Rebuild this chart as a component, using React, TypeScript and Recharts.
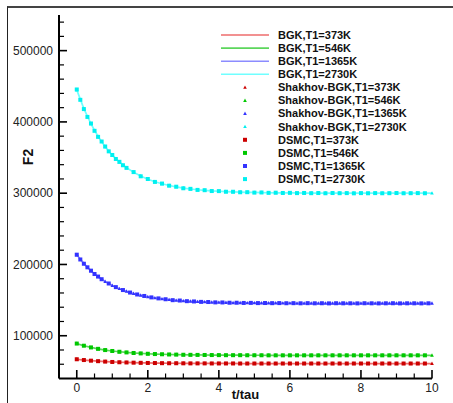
import React from 'react';
import { LineChart, Line, XAxis, YAxis, Legend } from 'recharts';

// kinetic solutions (BGK and Shakhov-BGK overlap), sampled every 0.2 tau
const T_KIN = [
  0, 0.2, 0.4, 0.6, 0.8, 1, 1.2, 1.4, 1.6, 1.8, 2, 2.2, 2.4, 2.6, 2.8, 3, 3.2, 3.4, 3.6, 3.8,
  4, 4.2, 4.4, 4.6, 4.8, 5, 5.2, 5.4, 5.6, 5.8, 6, 6.2, 6.4, 6.6, 6.8, 7, 7.2, 7.4, 7.6, 7.8,
  8, 8.2, 8.4, 8.6, 8.8, 9, 9.2, 9.4, 9.6, 9.8, 10,
];

const F2_373 = [
  67000, 65900, 65000, 64300, 63700, 63200, 62800, 62500, 62200, 62000,
  61800, 61700, 61500, 61400, 61400, 61300, 61200, 61200, 61200, 61100,
  61100, 61100, 61100, 61000, 61000, 61000, 61000, 61000, 61000, 61000,
  61000, 61000, 61000, 61000, 61000, 61000, 61000, 61000, 61000, 61000,
  61000, 61000, 61000, 61000, 61000, 61000, 61000, 61000, 61000, 61000,
  61000,
];

const F2_546 = [
  89000, 86000, 83600, 81600, 79900, 78600, 77500, 76600, 75800, 75200,
  74700, 74300, 74000, 73700, 73500, 73300, 73200, 73100, 73000, 72900,
  72800, 72700, 72700, 72700, 72600, 72600, 72600, 72500, 72500, 72500,
  72500, 72500, 72500, 72500, 72500, 72500, 72500, 72500, 72500, 72500,
  72500, 72500, 72500, 72500, 72500, 72500, 72500, 72500, 72500, 72500,
  72500,
];

const F2_1365 = [
  213500, 201200, 191100, 182800, 176100, 170500, 166000, 162300, 159200, 156700,
  154700, 153000, 151700, 150600, 149600, 148900, 148300, 147800, 147400, 147000,
  146700, 146500, 146300, 146200, 146100, 146000, 145900, 145800, 145800, 145700,
  145700, 145600, 145600, 145600, 145600, 145600, 145500, 145500, 145500, 145500,
  145500, 145500, 145500, 145500, 145500, 145500, 145500, 145500, 145500, 145500,
  145500,
];

const F2_2730 = [
  445000, 418700, 397200, 379600, 365100, 353300, 343700, 335800, 329300, 324000,
  319600, 316100, 313200, 310800, 308800, 307200, 305900, 304800, 304000, 303200,
  302700, 302200, 301800, 301500, 301200, 301000, 300800, 300600, 300500, 300400,
  300300, 300300, 300200, 300200, 300200, 300100, 300100, 300100, 300100, 300100,
  300000, 300000, 300000, 300000, 300000, 300000, 300000, 300000, 300000, 300000,
  300000,
];

// DSMC samples: finer at the start for the two hot cases
const T_DSMC_1365 = [
  0, 0.1, 0.2, 0.3, 0.4, 0.5, 0.6, 0.7, 0.9, 1.1, 1.3, 1.5, 1.7, 1.9, 2.1, 2.3, 2.5, 2.7,
  2.9, 3.1, 3.3, 3.5, 3.7, 3.9, 4.1, 4.3, 4.5, 4.7, 4.9, 5.1, 5.3, 5.5, 5.7, 5.9, 6.1, 6.3,
  6.5, 6.7, 6.9, 7.1, 7.3, 7.5, 7.7, 7.9, 8.1, 8.3, 8.5, 8.7, 8.9, 9.1, 9.3, 9.5, 9.7, 9.9,
];
const DSMC_1365 = [
  213700, 207000, 201000, 196000, 191300, 186600, 183000, 179300,
  173300, 168200, 164100, 160600, 157900, 155800, 153800, 152400, 151200, 149900,
  149400, 148500, 148100, 147500, 147300, 146800, 146700, 146300, 146300, 146000,
  146100, 145800, 145900, 145700, 145800, 145600, 145700, 145500, 145700, 145500,
  145600, 145400, 145600, 145500, 145500, 145400, 145600, 145500, 145400, 145500,
  145600, 145400, 145500, 145500, 145400, 145500,
];

const T_DSMC_2730 = [
  0, 0.1, 0.2, 0.3, 0.4, 0.5, 0.6, 0.7, 0.8, 0.9, 1, 1.1, 1.2, 1.3, 1.4, 1.6, 1.8, 2, 2.2,
  2.4, 2.6, 2.8, 3, 3.2, 3.4, 3.6, 3.8, 4, 4.2, 4.4, 4.6, 4.8, 5, 5.2, 5.4, 5.6, 5.8, 6, 6.2,
  6.4, 6.6, 6.8, 7, 7.2, 7.4, 7.6, 7.8, 8, 8.2, 8.4, 8.6, 8.8, 9, 9.2, 9.4, 9.6, 9.8,
];
const DSMC_2730 = [
  445500, 431000, 418000, 407000, 397800, 387500, 379000, 372500, 365500, 358700,
  353600, 348000, 344000, 339200, 335500,
  329600, 323700, 319900, 315800, 313500, 310500, 309100, 306900, 306100, 304600,
  304200, 303000, 302900, 302000, 302000, 301300, 301400, 300800, 301000, 300500,
  300700, 300300, 300500, 300100, 300300, 300000, 300200, 299900, 300200, 300000,
  300100, 299800, 300100, 299900, 300100, 299900, 300000, 300200, 299900, 300000,
  300100, 299900,
];

const TEMPS = ['373K', '546K', '1365K', '2730K'];
const LINE_COLORS = ['#ee6c6c', '#5cd65c', '#8c8cff', '#70ffff'];
const MARK_COLORS = ['#cc0000', '#00c800', '#3333ff', '#00f0f0'];

const X_TICKS = [0, 0.5, 1, 1.5, 2, 2.5, 3, 3.5, 4, 4.5, 5, 5.5, 6, 6.5, 7, 7.5, 8, 8.5, 9, 9.5, 10];
const X_LABELS = [0, 2, 4, 6, 8, 10];
const Y_TICKS = [
  60000, 80000, 100000, 120000, 140000, 160000, 180000, 200000, 220000, 240000, 260000,
  280000, 300000, 320000, 340000, 360000, 380000, 400000, 420000, 440000, 460000, 480000,
  500000, 520000, 540000,
];
const Y_LABELS = [100000, 200000, 300000, 400000, 500000];

const FONT = '"Liberation Sans", Arial, Helvetica, sans-serif';

const kinData = T_KIN.map((t, i) => ({
  t,
  k0: F2_373[i],
  k1: F2_546[i],
  k2: F2_1365[i],
  k3: F2_2730[i],
}));

// DSMC for the cold cases is sampled on the same grid, stopping at 9.8
const dsmcData = [
  T_KIN.slice(0, 50).map((t, i) => ({ t, v: F2_373[i] })),
  T_KIN.slice(0, 50).map((t, i) => ({ t, v: F2_546[i] })),
  T_DSMC_1365.map((t, i) => ({ t, v: DSMC_1365[i] })),
  T_DSMC_2730.map((t, i) => ({ t, v: DSMC_2730[i] })),
];

const squareDot = (color: string) => (p: any) => (
  <rect key={`sq-${p.index}`} x={p.cx - 2} y={p.cy - 2} width={4} height={4} fill={color} />
);

const triangleDot = (color: string) => (p: any) => (
  <path
    key={`tr-${p.index}`}
    d={`M${p.cx},${p.cy - 2}L${p.cx + 1.8},${p.cy + 1.4}L${p.cx - 1.8},${p.cy + 1.4}Z`}
    fill={color}
  />
);

const YTick = (props: any) => {
  const { x, y, payload } = props;
  const ax = x + 6;
  const major = Y_LABELS.includes(payload.value);
  return (
    <g>
      <line x1={ax} x2={ax + (major ? 8 : 5)} y1={y} y2={y} stroke="#000" strokeWidth={major ? 1.6 : 1.2} />
      {major && (
        <text x={x} y={y} dy={4.3} textAnchor="end" fontSize={12} fontFamily={FONT} fill="#222">
          {payload.value}
        </text>
      )}
    </g>
  );
};

const XTick = (props: any) => {
  const { x, y, payload } = props;
  const ay = y - 2;
  const major = X_LABELS.includes(payload.value);
  return (
    <g>
      <line x1={x} x2={x} y1={ay} y2={ay - (major ? 8.5 : 5)} stroke="#000" strokeWidth={major ? 1.6 : 1.2} />
      {major && (
        <text x={x} y={y} dy={11} textAnchor="middle" fontSize={12} fontFamily={FONT} fill="#222">
          {payload.value}
        </text>
      )}
    </g>
  );
};

const renderLegend = () => {
  const rows: { name: string; kind: 'line' | 'tri' | 'sq'; i: number }[] = [];
  TEMPS.forEach((T, i) => rows.push({ name: `BGK,T1=${T}`, kind: 'line', i }));
  TEMPS.forEach((T, i) => rows.push({ name: `Shakhov-BGK,T1=${T}`, kind: 'tri', i }));
  TEMPS.forEach((T, i) => rows.push({ name: `DSMC,T1=${T}`, kind: 'sq', i }));
  return (
    <svg width={235} height={165}>
      {rows.map((r, k) => {
        const cy = 8 + k * 13.1;
        return (
          <g key={r.name}>
            {r.kind === 'line' && <line x1={8} x2={56} y1={cy} y2={cy} stroke={LINE_COLORS[r.i]} strokeWidth={1.6} />}
            {r.kind === 'tri' && triangleDot(MARK_COLORS[r.i])({ cx: 32, cy, index: k })}
            {r.kind === 'sq' && squareDot(MARK_COLORS[r.i])({ cx: 32, cy, index: k })}
            <text x={65} y={cy + 3.8} fontSize={11} fontWeight="bold" fontFamily={FONT} fill="#111">
              {r.name}
            </text>
          </g>
        );
      })}
    </svg>
  );
};

export default function App() {
  return (
    <div style={{ position: 'absolute', left: 0, top: 0, width: 453, height: 403, background: '#fff', overflow: 'hidden' }}>
      <div
        style={{
          position: 'absolute',
          left: 7,
          top: 6,
          width: 460,
          height: 410,
          borderTop: '2px solid #444',
          borderLeft: '1px solid #222',
        }}
      />
      <LineChart width={453} height={403} data={kinData} margin={{ top: 15, right: 21, left: 0, bottom: 0 }}>
        <XAxis
          dataKey="t"
          type="number"
          domain={[-0.5, 10]}
          ticks={X_TICKS}
          interval={0}
          height={24.5}
          tickSize={0}
          tickMargin={2}
          tickLine={false}
          axisLine={{ stroke: '#000', strokeWidth: 2 }}
          tick={<XTick />}
          label={{
            content: (p: any) => (
              <text
                x={p.viewBox.x + p.viewBox.width / 2}
                y={399}
                textAnchor="middle"
                fontSize={13}
                fontWeight="bold"
                fontFamily={FONT}
                fill="#111"
              >
                t/tau
              </text>
            ),
          }}
        />
        <YAxis
          type="number"
          domain={[40000, 550000]}
          ticks={Y_TICKS}
          interval={0}
          width={59}
          tickSize={0}
          tickMargin={6}
          tickLine={false}
          axisLine={{ stroke: '#000', strokeWidth: 2 }}
          tick={<YTick />}
          label={{
            content: (p: any) => (
              <text
                x={p.viewBox.x + 28}
                y={p.viewBox.y + 142}
                transform={`rotate(-90, ${p.viewBox.x + 28}, ${p.viewBox.y + 142})`}
                textAnchor="middle"
                dominantBaseline="central"
                fontSize={14}
                fontWeight="bold"
                fontFamily={FONT}
                fill="#111"
              >
                F2
              </text>
            ),
          }}
        />
        <Legend
          layout="vertical"
          align="center"
          verticalAlign="middle"
          content={renderLegend}
          wrapperStyle={{ left: 213, top: 27, width: 235, height: 165 }}
        />
        {TEMPS.map((T, i) => (
          <Line
            key={`bgk-${T}`}
            dataKey={`k${i}`}
            stroke={LINE_COLORS[i]}
            strokeWidth={1.7}
            dot={false}
            isAnimationActive={false}
          />
        ))}
        {TEMPS.map((T, i) => (
          <Line
            key={`shk-${T}`}
            dataKey={`k${i}`}
            stroke="none"
            dot={triangleDot(MARK_COLORS[i])}
            isAnimationActive={false}
          />
        ))}
        {TEMPS.map((T, i) => (
          <Line
            key={`dsmc-${T}`}
            data={dsmcData[i]}
            dataKey="v"
            stroke="none"
            dot={squareDot(MARK_COLORS[i])}
            isAnimationActive={false}
          />
        ))}
      </LineChart>
    </div>
  );
}
